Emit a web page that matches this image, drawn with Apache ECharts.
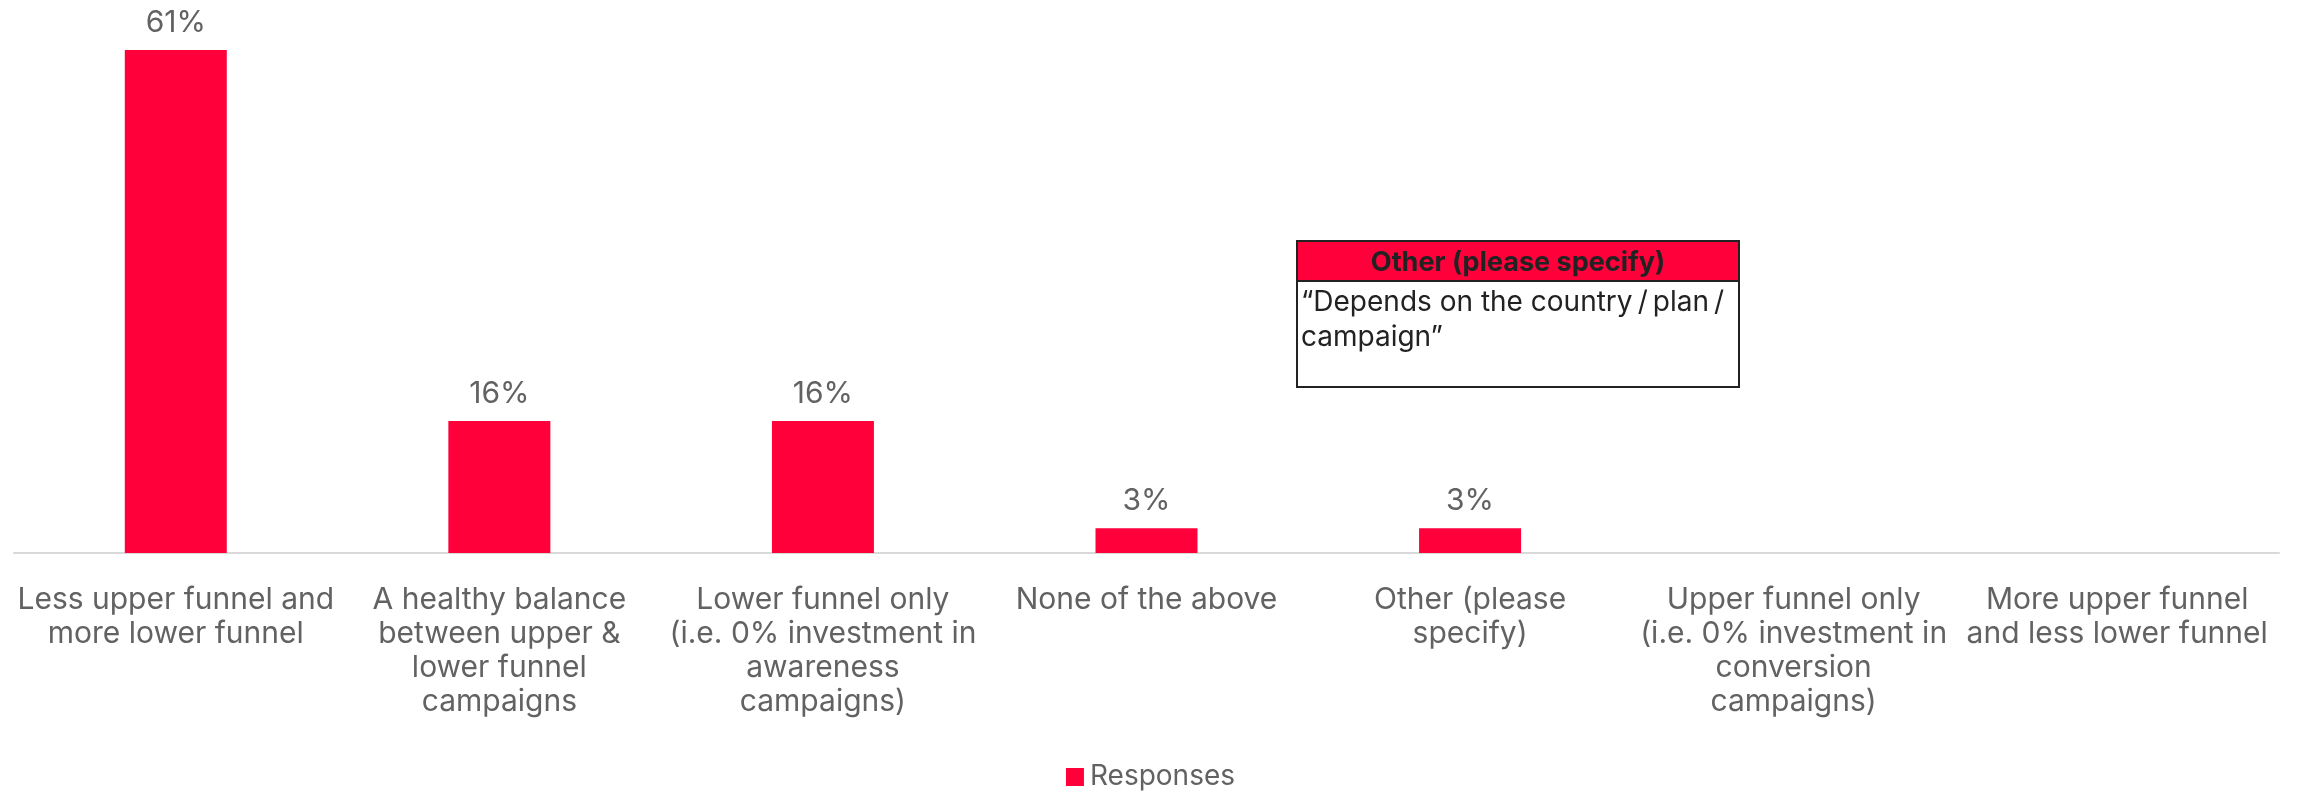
<!DOCTYPE html>
<html>
<head>
<meta charset="utf-8">
<script src="https://cdn.jsdelivr.net/npm/echarts@6/dist/echarts.min.js"></script>
<style>
  html, body { margin: 0; padding: 0; background: #ffffff; }
  #chart { width: 2301px; height: 793px; }
</style>
</head>
<body>
<div id="chart"></div>
<script>
// Survey answers (line breaks follow the printed wrapping)
const categories = [
  'Less upper funnel and\nmore lower funnel',
  'A healthy balance\nbetween upper &\nlower funnel\ncampaigns',
  'Lower funnel only\n(i.e. 0% investment in\nawareness\ncampaigns)',
  'None of the above',
  'Other (please\nspecify)',
  'Upper funnel only\n(i.e. 0% investment in\nconversion\ncampaigns)',
  'More upper funnel\nand less lower funnel'
];
// Share of responses, percent (empty answers have no bar and no label)
const responses = [61, 16, 16, 3, 3, null, null];
const seriesName = 'Responses';

// Verbatim "Other" answer shown in the call-out table
const otherTitle = 'Other (please specify)';
const otherAnswer = '\u201CDepends on the country\u2009/\u2009plan\u2009/\ncampaign\u201D';

const RED = '#ff003b';
const GREY_TEXT = '#626262';
const FONT = 'Inter, "Noto Sans", sans-serif';

const chart = echarts.init(document.getElementById('chart'));

chart.setOption({
  backgroundColor: '#ffffff',
  animation: false,
  grid: { left: 14, right: 22, top: 50, bottom: 240, containLabel: false },
  legend: {
    top: 758,
    left: 'center',
    itemWidth: 18,
    itemHeight: 18,
    itemGap: 10,
    icon: 'rect',
    textStyle: { color: GREY_TEXT, fontSize: 28, fontFamily: FONT, padding: [0, 0, 0, 1] },
    data: [seriesName]
  },
  xAxis: {
    type: 'category',
    data: categories,
    axisLine: { show: true, lineStyle: { color: '#d9d9d9', width: 2 } },
    axisTick: { show: false },
    axisLabel: {
      interval: 0,
      color: GREY_TEXT,
      fontSize: 30,
      fontFamily: FONT,
      lineHeight: 34,
      margin: 30,
      align: 'center'
    }
  },
  yAxis: {
    type: 'value',
    min: 0,
    max: 61,
    show: false,
    splitLine: { show: false }
  },
  series: [{
    name: seriesName,
    type: 'bar',
    data: responses,
    barWidth: 102,
    itemStyle: { color: RED },
    label: {
      show: true,
      position: 'top',
      distance: 12,
      color: GREY_TEXT,
      fontSize: 30,
      fontFamily: FONT,
      formatter: p => (p.value == null ? '' : p.value + '%')
    }
  }],
  graphic: [{
    type: 'group',
    left: 1296,
    top: 240,
    children: [
      {
        type: 'rect',
        shape: { x: 0, y: 0, width: 442, height: 146 },
        style: { fill: '#ffffff', stroke: '#222222', lineWidth: 2 }
      },
      {
        type: 'rect',
        shape: { x: 0, y: 0, width: 442, height: 40 },
        style: { fill: RED, stroke: '#222222', lineWidth: 2 }
      },
      {
        type: 'text',
        x: 221,
        y: 22,
        style: {
          text: otherTitle,
          fill: '#222222',
          font: 'bold 27px ' + FONT,
          align: 'center',
          verticalAlign: 'middle'
        }
      },
      {
        type: 'text',
        x: 4,
        y: 44,
        style: {
          text: otherAnswer,
          fill: '#222222',
          font: '28px ' + FONT,
          lineHeight: 35,
          align: 'left',
          verticalAlign: 'top'
        }
      }
    ]
  }]
});
</script>
</body>
</html>
